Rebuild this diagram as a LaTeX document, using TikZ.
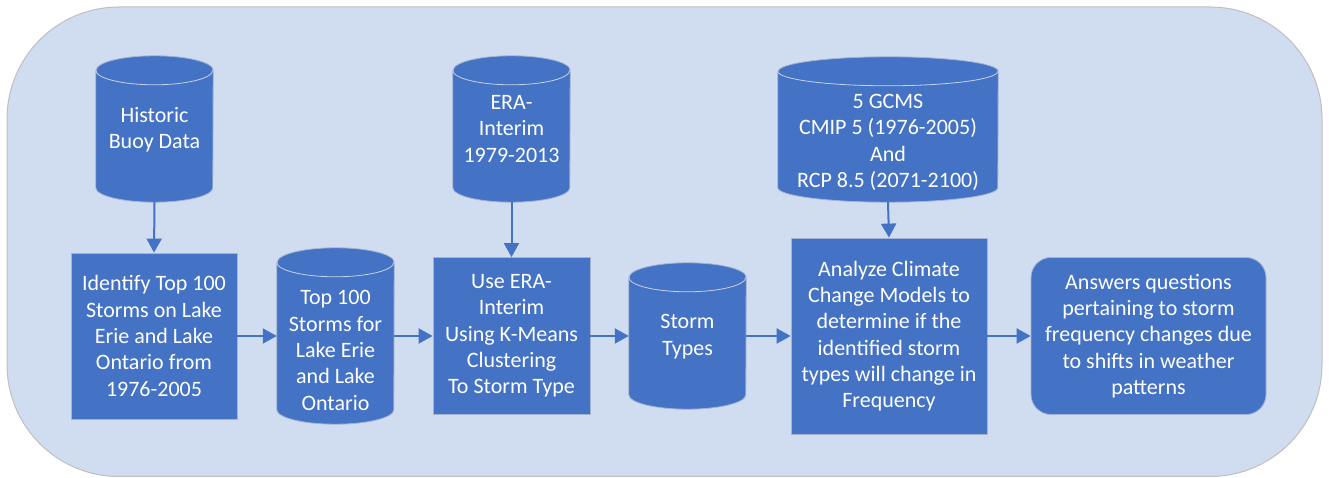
\documentclass[tikz,border=0pt]{standalone}
\usepackage{fontspec}
\setmainfont{Carlito}
\usetikzlibrary{arrows.meta,calc}
\definecolor{bgfill}{RGB}{208,220,239}
\definecolor{bgline}{RGB}{191,191,191}
\definecolor{blu}{RGB}{68,114,196}
\definecolor{edge}{RGB}{165,180,212}
\definecolor{rim}{RGB}{200,210,230}
\newcommand\drawcyl[2]{%
  \path[fill=blu,draw=edge,line width=0.8pt]
    ($(#1.north west)+(0,-14.5)$) -- ($(#1.south west)+(0,14.5)$)
    arc[start angle=180,end angle=360,x radius=#2,y radius=14.5]
    -- ($(#1.north east)+(0,-14.5)$)
    arc[start angle=0,end angle=180,x radius=#2,y radius=14.5] -- cycle;
  \draw[rim,line width=0.8pt] ($(#1.north west)+(0,-14.5)$)
    arc[start angle=180,end angle=360,x radius=#2,y radius=14.5];}
\begin{document}
\begin{tikzpicture}[x=1pt,y=1pt,
  txt/.style={text=white,align=center,inner sep=0pt,font=\fontsize{22}{26.3}\selectfont},
  box/.style={txt,fill=blu,draw=edge,line width=0.8pt},
  cylbox/.style={inner sep=0pt,draw=none,fill=none},
  arr/.style={draw=blu,line width=2pt,-{Triangle[length=14pt,width=15pt]}}]
\useasboundingbox (0,0) rectangle (1329,478);
\draw[fill=bgfill,draw=bgline,line width=1pt,rounded corners=112pt] (7,1.5) rectangle (1322,471);

% cylinder frames
\node[cylbox,minimum width=117pt,minimum height=146pt] (c1) at (154.5,349) {};
\node[cylbox,minimum width=117pt,minimum height=176pt] (c2) at (335.5,142) {};
\node[cylbox,minimum width=117pt,minimum height=146pt] (c3) at (511.5,349) {};
\node[cylbox,minimum width=117pt,minimum height=146pt] (c4) at (687.5,142) {};
\node[cylbox,minimum width=220pt,minimum height=145pt] (c5) at (888,348.5) {};
\drawcyl{c1}{58.5}
\drawcyl{c2}{58.5}
\drawcyl{c3}{58.5}
\drawcyl{c4}{58.5}
\drawcyl{c5}{110}

% cylinder texts
\node[txt] (t1) at (154.5,348) {Historic\\Buoy Data};
\node[txt] (t2) at (335.5,127.5) {Top 100\\Storms for\\Lake Erie\\and Lake\\Ontario};
\node[txt] (t3) at (511.5,349) {ERA-\\Interim\\1979-2013};
\node[txt] (t4) at (687.5,141.5) {Storm\\Types};
\node[txt] (t5) at (888,335.5) {5 GCMS\\CMIP 5 (1976-2005)\\And\\RCP 8.5 (2071-2100)};

% boxes
\node[box,minimum width=166pt,minimum height=166pt] (b1) at (154,142)
  {Identify Top 100\\Storms on Lake\\Erie and Lake\\Ontario from\\1976-2005};
\node[box,minimum width=157pt,minimum height=157pt] (b2) at (511.5,142)
  {Use ERA-\\Interim\\Using K-Means\\Clustering\\To Storm Type};
\node[box,minimum width=196pt,minimum height=196pt] (b3) at (889,142)
  {Analyze Climate\\Change Models to\\determine if the\\identified storm\\types will change in\\Frequency};
\node[box,rounded corners=20pt,minimum width=235pt,minimum height=157pt] (b4) at (1148.5,142)
  {Answers questions\\pertaining to storm\\frequency changes due\\to shifts in weather\\patterns};

% connectors
\draw[arr] (c1.south) -- (b1.north);
\draw[arr] (c3.south) -- (b2.north);
\draw[arr] (c5.south) -- (b3.north);
\draw[arr] (b1.east) -- (c2.west);
\draw[arr] (c2.east) -- (b2.west);
\draw[arr] (b2.east) -- (c4.west);
\draw[arr] (c4.east) -- (b3.west);
\draw[arr] (b3.east) -- (b4.west);
\end{tikzpicture}
\end{document}
